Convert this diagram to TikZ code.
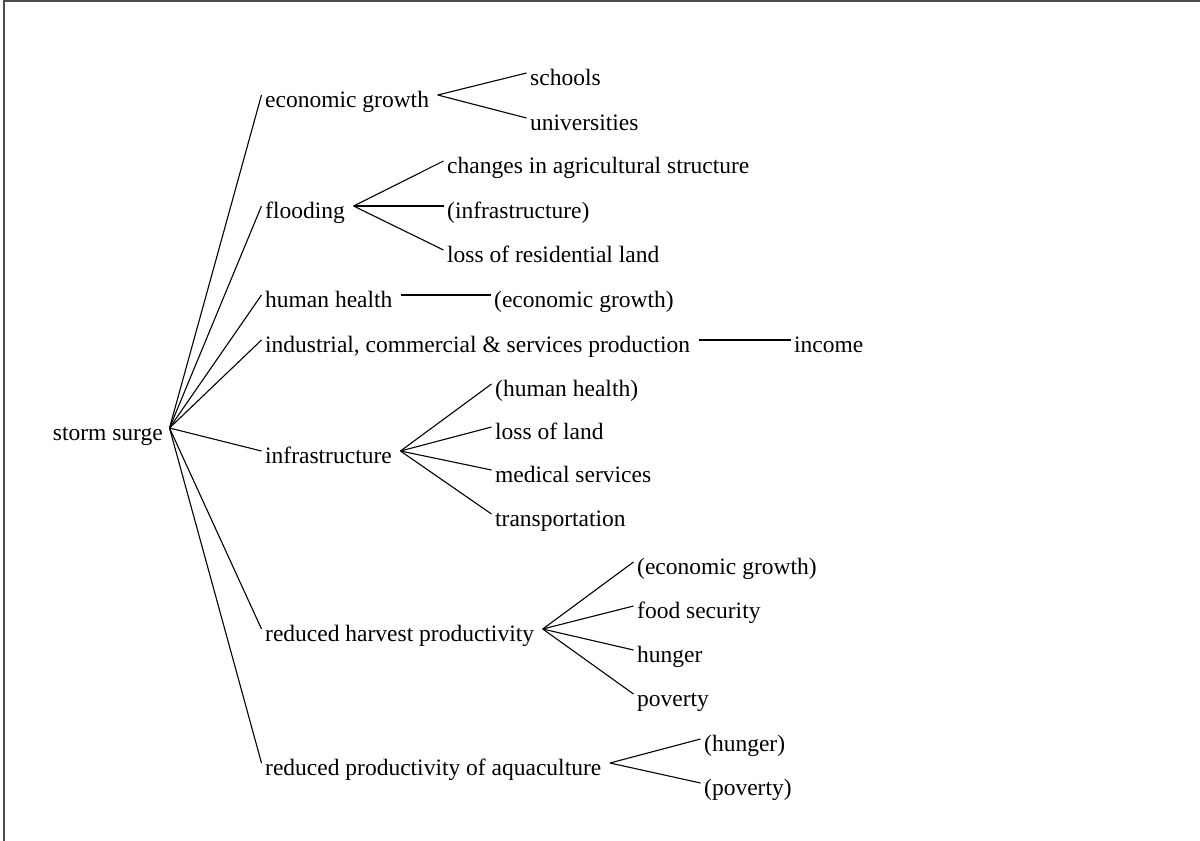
\documentclass[tikz,border=0pt]{standalone}
\usepackage{fontspec}
\setmainfont{Liberation Serif}
\begin{document}
\begin{tikzpicture}[x=1pt,y=-1pt,
  lbl/.style={font=\fontsize{23.5}{28}\selectfont, inner xsep=3.5pt, inner ysep=0pt,
    text height=24pt, text depth=0pt, anchor=west},
  link/.style={line width=1.1pt, black},
  frameline/.style={line width=1.8pt, black!70}]
\useasboundingbox (0,0) rectangle (1200,841);
\draw[frameline] (4,841) -- (4,1.2) -- (1200,1.2);

% root
\node[lbl, anchor=east] (root) at (166.5,428) {storm surge};

% first level
\node[lbl] (eco)   at (261.5,95)  {economic growth};
\node[lbl] (flood) at (261.5,206) {flooding};
\node[lbl] (hh)    at (261.5,295) {human health};
\node[lbl] (ind)   at (261.5,340) {industrial, commercial \& services production};
\node[lbl] (infra) at (261.5,451) {infrastructure};
\node[lbl] (harv)  at (261.5,629) {reduced harvest productivity};
\node[lbl] (aqua)  at (261.5,763) {reduced productivity of aquaculture};

% second level
\node[lbl] (schools) at (526.5,73)  {schools};
\node[lbl] (univ)    at (526.5,118) {universities};

\node[lbl] (agri)    at (443.5,161) {changes in agricultural structure};
\node[lbl] (finfra)  at (443.5,206) {(infrastructure)};
\node[lbl] (resid)   at (443.5,250) {loss of residential land};

\node[lbl] (hheco)   at (490.5,295) {(economic growth)};
\node[lbl] (income)  at (790.5,340) {income};

\node[lbl] (ihh)     at (491.5,384) {(human health)};
\node[lbl] (iland)   at (491.5,427) {loss of land};
\node[lbl] (imed)    at (491.5,470) {medical services};
\node[lbl] (itrans)  at (491.5,514) {transportation};

\node[lbl] (heco)    at (633.5,562) {(economic growth)};
\node[lbl] (hfood)   at (633.5,606) {food security};
\node[lbl] (hhung)   at (633.5,650) {hunger};
\node[lbl] (hpov)    at (633.5,694) {poverty};

\node[lbl] (ahung)   at (700.5,739) {(hunger)};
\node[lbl] (apov)    at (700.5,783) {(poverty)};

% connectors
\foreach \c in {eco,flood,hh,ind,infra,harv,aqua}
  \draw[link] ([xshift=3pt]root.east) -- (\c.west);
\foreach \c in {schools,univ}
  \draw[link] ([xshift=5pt]eco.east) -- (\c.west);
\foreach \c in {agri,finfra,resid}
  \draw[link] ([xshift=5pt]flood.east) -- (\c.west);
\draw[link] ([xshift=5pt]hh.east) -- (hheco.west);
\draw[link] ([xshift=5pt]ind.east) -- (income.west);
\foreach \c in {ihh,iland,imed,itrans}
  \draw[link] ([xshift=5pt]infra.east) -- (\c.west);
\foreach \c in {heco,hfood,hhung,hpov}
  \draw[link] ([xshift=5pt]harv.east) -- (\c.west);
\foreach \c in {ahung,apov}
  \draw[link] ([xshift=5pt]aqua.east) -- (\c.west);
\end{tikzpicture}
\end{document}
